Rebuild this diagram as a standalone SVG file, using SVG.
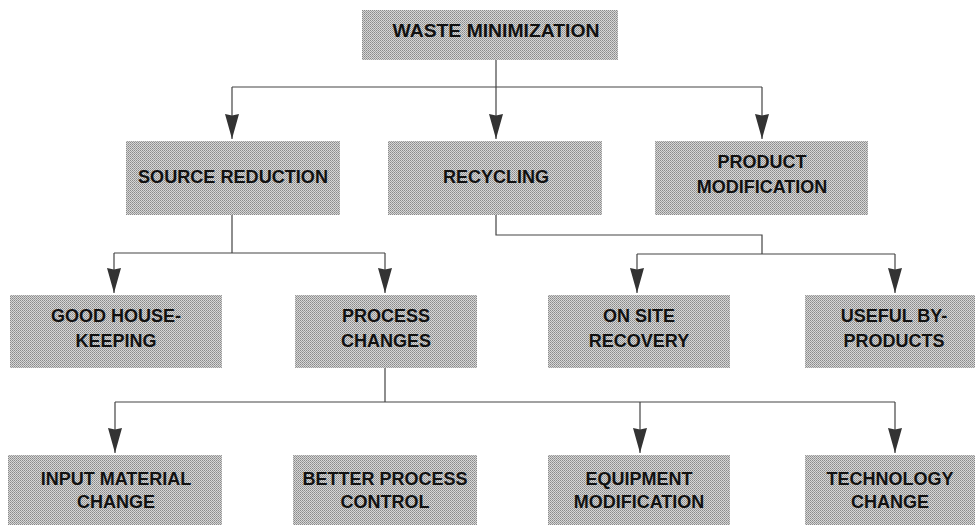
<svg xmlns="http://www.w3.org/2000/svg" width="978" height="525" viewBox="0 0 978 525">
<defs>
<pattern id="ht" width="2" height="2" patternUnits="userSpaceOnUse">
<rect width="2" height="2" fill="#d6d6d6"/>
<rect width="1" height="1" fill="#8a8a8a"/>
<rect x="1" y="1" width="1" height="1" fill="#9e9e9e"/>
</pattern>
<marker id="ah" markerUnits="userSpaceOnUse" markerWidth="26" markerHeight="16" refX="25" refY="8" orient="auto" viewBox="0 0 26 16">
<path d="M0,1 L25,8 L0,15 L1.5,8 z" fill="#333"/>
</marker>
<style>
.box{fill:url(#ht);}
.t{font-family:"Liberation Sans",Arial,sans-serif;font-weight:bold;font-size:18px;fill:#111;text-anchor:middle;}
.c{fill:none;stroke:#444;stroke-width:1.2;}
.a{fill:none;stroke:#444;stroke-width:1.2;marker-end:url(#ah);}
</style>
</defs>
<rect width="978" height="525" fill="#fff"/>

<g id="connectors">
<path class="c" d="M496,60 V87 M232,87 H762"/>
<path class="a" d="M232,87 V139"/>
<path class="a" d="M496,87 V139"/>
<path class="a" d="M762,87 V139"/>
<path class="c" d="M232,215 V253 M114,253 H385"/>
<path class="a" d="M114,253 V293"/>
<path class="a" d="M385,253 V293"/>
<path class="c" d="M496,215 V235 H762 V254 M637,254 H895"/>
<path class="a" d="M637,254 V293"/>
<path class="a" d="M895,254 V293"/>
<path class="c" d="M385,368 V402 M115,402 H895"/>
<path class="a" d="M115,402 V453"/>
<path class="a" d="M640,402 V453"/>
<path class="a" d="M895,402 V453"/>
</g>

<g id="waste-minimization">
<rect class="box" x="362" y="10" width="256" height="50"/>
<text class="t" x="496" y="37" textLength="207" lengthAdjust="spacingAndGlyphs">WASTE MINIMIZATION</text>
</g>
<g id="source-reduction">
<rect class="box" x="126" y="141" width="214" height="74"/>
<text class="t" x="233" y="183" textLength="190" lengthAdjust="spacingAndGlyphs">SOURCE REDUCTION</text>
</g>
<g id="recycling">
<rect class="box" x="388" y="141" width="214" height="74"/>
<text class="t" x="496" y="183">RECYCLING</text>
</g>
<g id="product-modification">
<rect class="box" x="655" y="141" width="213" height="74"/>
<text class="t" x="762" y="168">PRODUCT</text>
<text class="t" x="762" y="193">MODIFICATION</text>
</g>
<g id="good-housekeeping">
<rect class="box" x="10" y="295" width="212" height="73"/>
<text class="t" x="116" y="322">GOOD HOUSE-</text>
<text class="t" x="116" y="347">KEEPING</text>
</g>
<g id="process-changes">
<rect class="box" x="295" y="295" width="182" height="73"/>
<text class="t" x="386" y="322">PROCESS</text>
<text class="t" x="386" y="347">CHANGES</text>
</g>
<g id="on-site-recovery">
<rect class="box" x="548" y="295" width="182" height="73"/>
<text class="t" x="639" y="322">ON SITE</text>
<text class="t" x="639" y="347">RECOVERY</text>
</g>
<g id="useful-by-products">
<rect class="box" x="805" y="295" width="170" height="73"/>
<text class="t" x="894" y="322">USEFUL BY-</text>
<text class="t" x="894" y="347">PRODUCTS</text>
</g>
<g id="input-material-change">
<rect class="box" x="8" y="455" width="214" height="70"/>
<text class="t" x="116" y="485">INPUT MATERIAL</text>
<text class="t" x="116" y="508">CHANGE</text>
</g>
<g id="better-process-control">
<rect class="box" x="293" y="455" width="184" height="70"/>
<text class="t" x="385" y="485">BETTER PROCESS</text>
<text class="t" x="385" y="508">CONTROL</text>
</g>
<g id="equipment-modification">
<rect class="box" x="548" y="455" width="182" height="70"/>
<text class="t" x="639" y="485">EQUIPMENT</text>
<text class="t" x="639" y="508">MODIFICATION</text>
</g>
<g id="technology-change">
<rect class="box" x="805" y="455" width="170" height="70"/>
<text class="t" x="890" y="485">TECHNOLOGY</text>
<text class="t" x="890" y="508">CHANGE</text>
</g>
</svg>
